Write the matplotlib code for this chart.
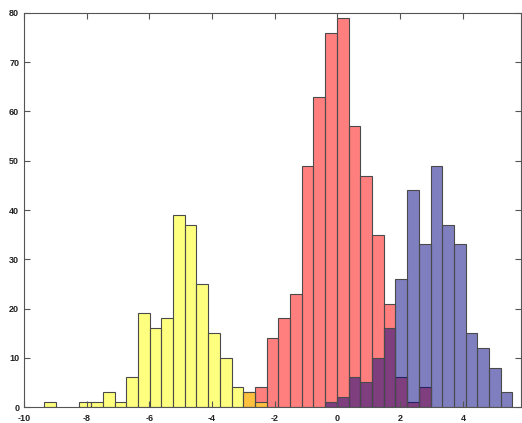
import numpy as np
import matplotlib
matplotlib.use("Agg")
import matplotlib.pyplot as plt
from matplotlib.colors import to_rgba

# Shared histogram bins (40 bins over the combined range)
bin_lo, bin_hi, n_bins = -9.352, 5.581, 40

yellow_counts = [1, 0, 0, 1, 1, 3, 1, 6, 19, 16, 18, 39, 37, 25, 15, 10, 4, 3, 1] + [0] * 21
red_counts = [0] * 17 + [3, 4, 14, 18, 23, 49, 63, 76, 79, 57, 47, 35, 21, 6, 1, 4] + [0] * 7
blue_counts = [0] * 24 + [1, 2, 6, 5, 10, 16, 26, 44, 33, 49, 37, 33, 15, 12, 8, 3]

# drawing order: red, then yellow, then blue on top
series = [
    (red_counts, "red"),
    (yellow_counts, "yellow"),
    (blue_counts, "navy"),
]

x_ticks = [-10, -8, -6, -4, -2, 0, 2, 4]
y_ticks = [0, 10, 20, 30, 40, 50, 60, 70, 80]

plt.rcParams["font.family"] = ["Liberation Sans", "DejaVu Sans"]
plt.rcParams["axes.unicode_minus"] = False

fig = plt.figure(figsize=(5.22, 4.23), dpi=100)
ax = fig.add_axes([24 / 522, 1 - 407 / 423, 1 - 24 / 522 - 0.001, (407 - 13) / 423])

edges = np.linspace(bin_lo, bin_hi, n_bins + 1)
for counts, color in series:
    c = np.asarray(counts, dtype=float)
    m = c > 0
    ax.bar(edges[:-1][m], c[m], width=np.diff(edges)[m], align="edge",
           facecolor=to_rgba(color, 0.5), edgecolor="#4a4a4a", linewidth=0.8)

ax.set_xlim(-10, 5.87)
ax.set_ylim(0, 80)
ax.set_xticks(x_ticks)
ax.set_yticks(y_ticks)
ax.set_xticklabels([str(t) for t in x_ticks], fontweight="bold")
ax.set_yticklabels([str(t) for t in y_ticks], fontweight="bold")
ax.tick_params(direction="in", length=4, width=0.8, color="#555555",
               top=True, right=True, labelsize=6.5, labelcolor="#222222")
ax.tick_params(axis="x", pad=5)
ax.tick_params(axis="y", pad=3.5)
for s in ax.spines.values():
    s.set_color("#555555")
    s.set_linewidth(0.8)

fig.savefig("out.png", dpi=100)
